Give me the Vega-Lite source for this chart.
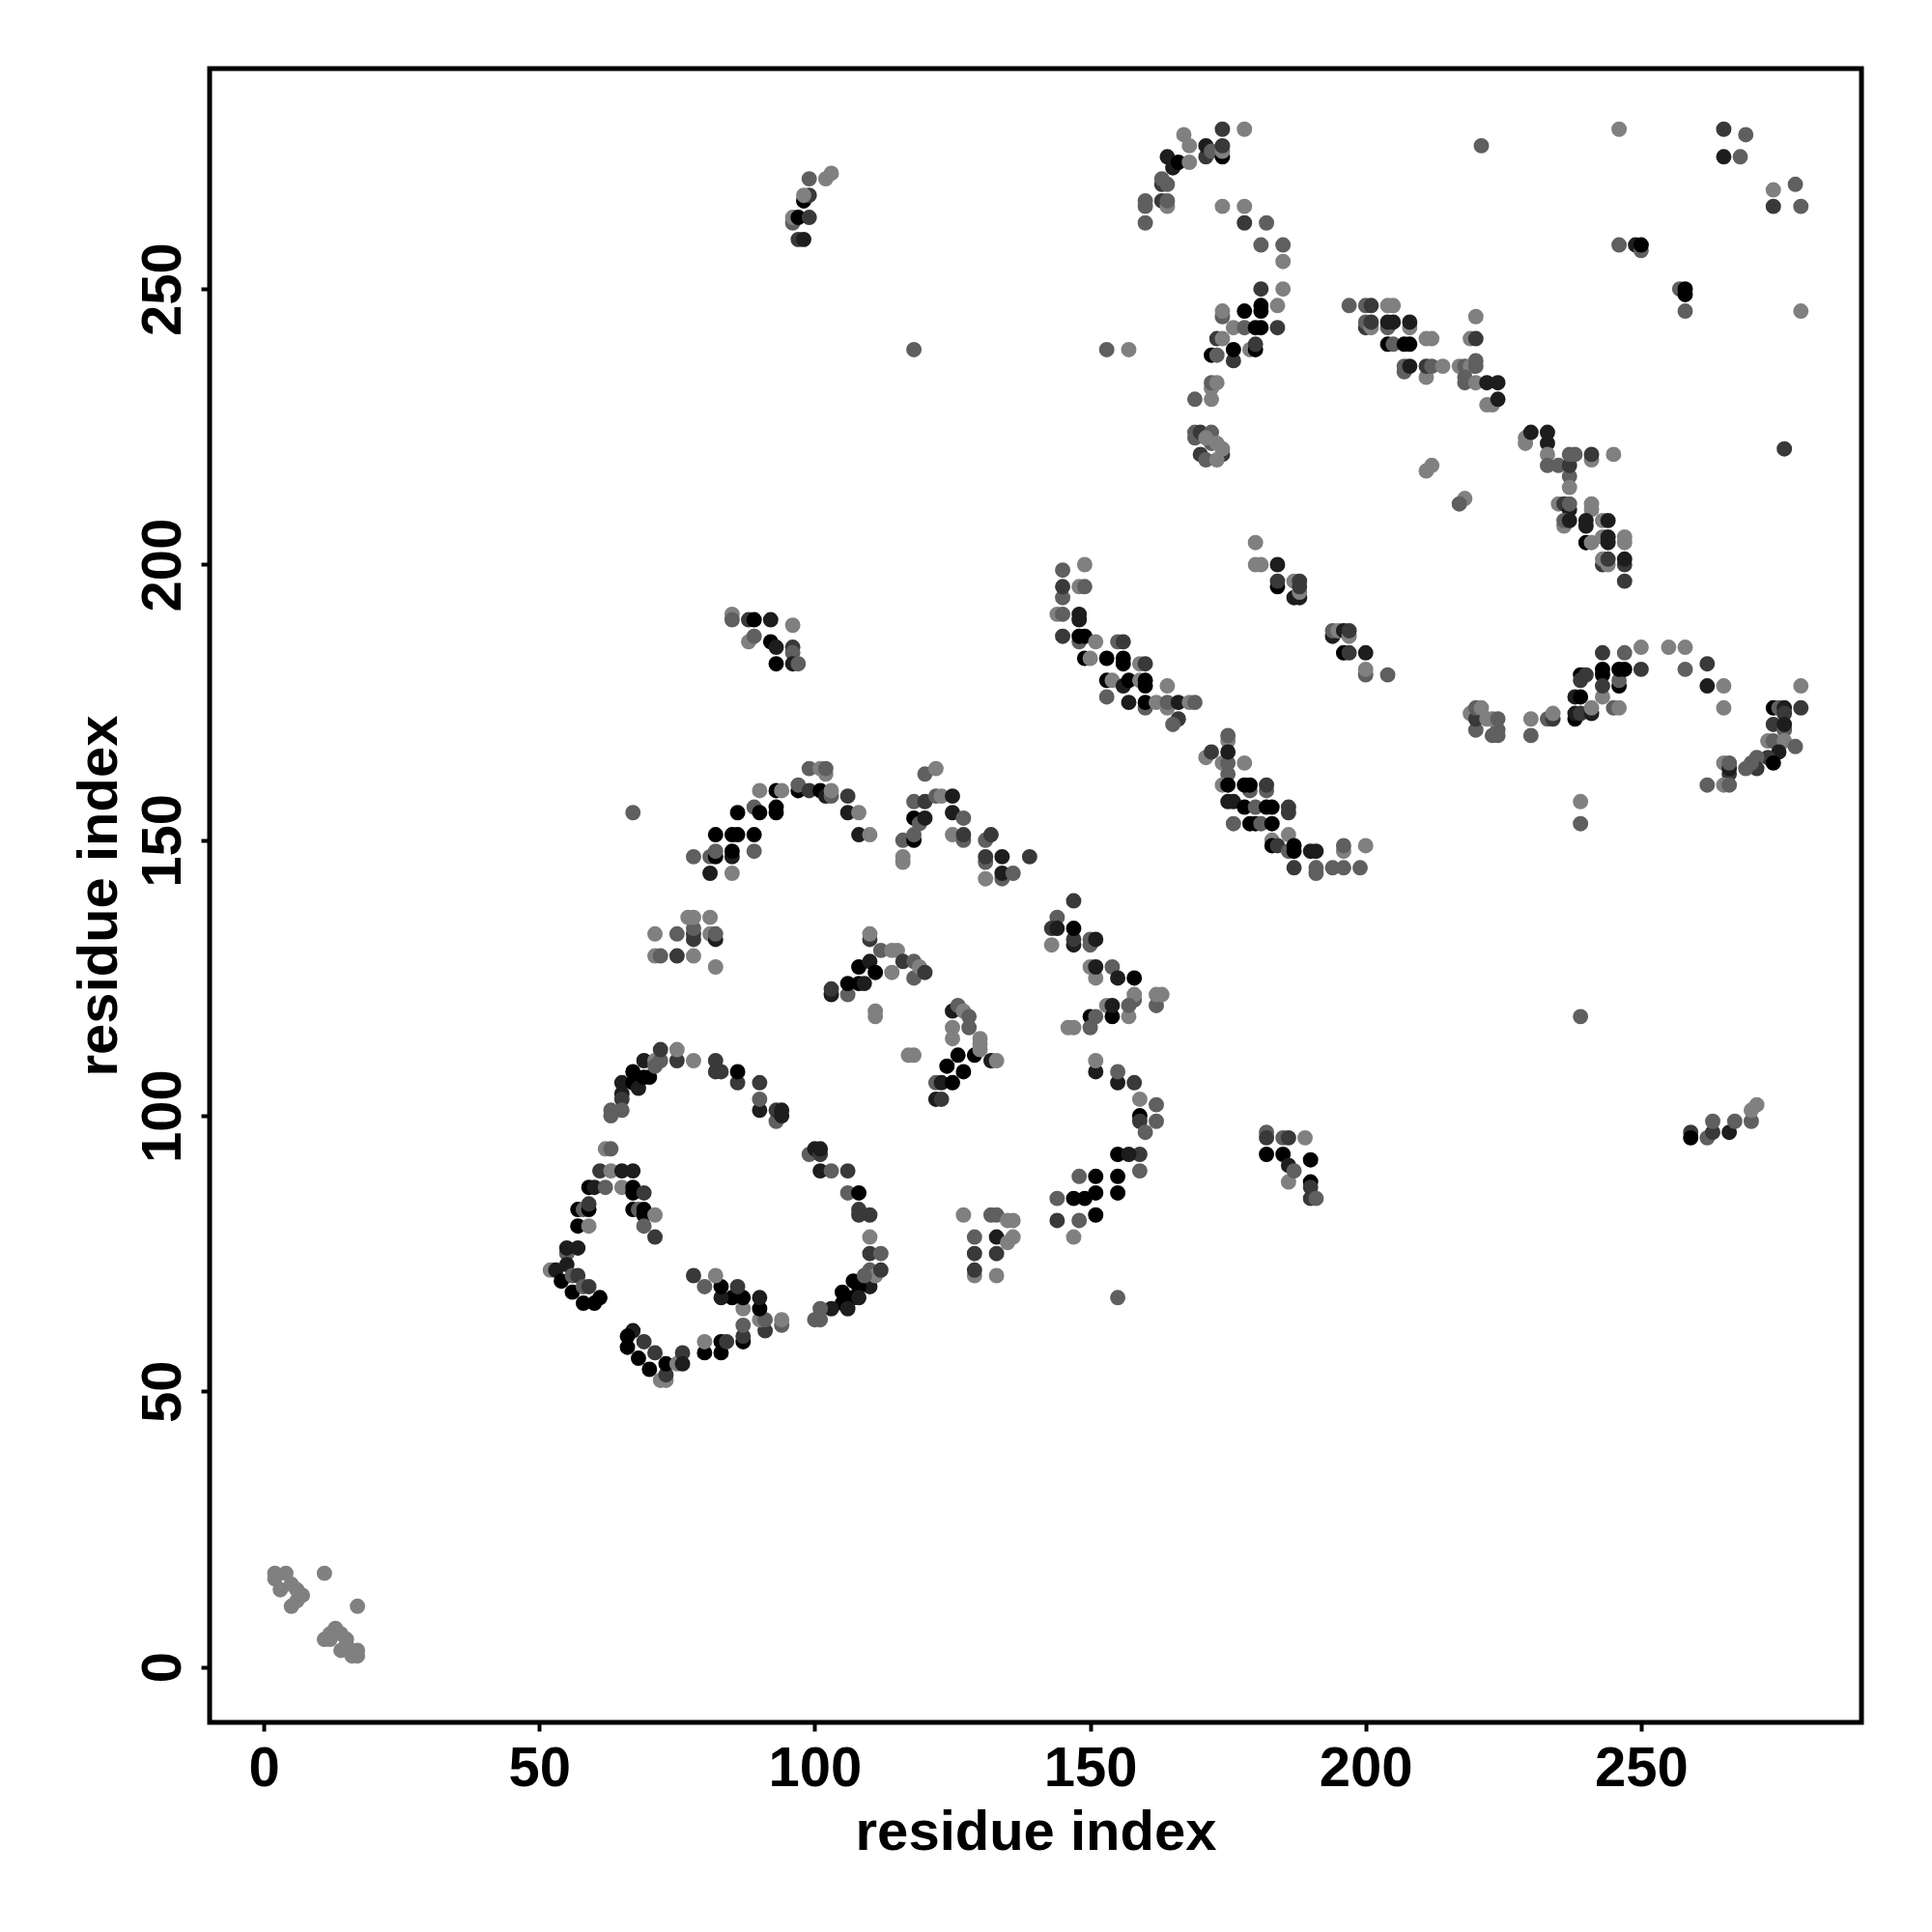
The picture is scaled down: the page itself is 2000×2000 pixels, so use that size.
{"$schema":"https://vega.github.io/schema/vega-lite/v6.json","width":1710,"height":1712,"autosize":{"type":"none"},"padding":{"left":217,"top":71,"right":73,"bottom":217},"background":"white","config":{"view":{"stroke":"black","strokeWidth":5,"fill":null},"font":"Liberation Sans"},"data":{"values":[
{"x":65,"y":106,"w":0.8},{"x":65,"y":104,"w":0.8},{"x":65,"y":103,"w":0.55},{"x":65,"y":101,"w":0.25},{"x":63,"y":101,"w":0.25},{"x":63,"y":100,"w":0.25},{"x":67,"y":108,"w":1},{"x":67,"y":106,"w":1},{"x":68,"y":105,"w":0.8},{"x":69,"y":110,"w":0.8},{"x":69,"y":107,"w":1},{"x":70,"y":107,"w":1},{"x":71,"y":110,"w":0},{"x":71,"y":109,"w":0.25},{"x":72,"y":110,"w":0.25},{"x":72,"y":112,"w":0.55},{"x":75,"y":110,"w":0.55},{"x":75,"y":112,"w":0},{"x":78,"y":110,"w":0},{"x":82,"y":110,"w":0.55},{"x":82,"y":108,"w":0.55},{"x":83,"y":108,"w":0.55},{"x":86,"y":106,"w":0.55},{"x":86,"y":108,"w":1},{"x":90,"y":106,"w":0.55},{"x":90,"y":101,"w":0.8},{"x":90,"y":103,"w":0.25},{"x":93,"y":99,"w":0.25},{"x":93,"y":101,"w":0.55},{"x":94,"y":100,"w":0.8},{"x":94,"y":101,"w":0.8},
{"x":99,"y":93,"w":0.25},{"x":100,"y":94,"w":0.8},{"x":101,"y":93,"w":0.55},{"x":101,"y":94,"w":0.8},{"x":101,"y":90,"w":0.8},{"x":103,"y":90,"w":0.25},{"x":106,"y":90,"w":0.55},{"x":106,"y":86,"w":0.25},{"x":108,"y":86,"w":1},{"x":108,"y":83,"w":0.55},{"x":108,"y":82,"w":0.55},{"x":110,"y":82,"w":0.55},{"x":110,"y":78,"w":0},{"x":110,"y":75,"w":0.55},{"x":112,"y":75,"w":0.25},{"x":110,"y":72,"w":0.25},{"x":110,"y":69,"w":0.8},{"x":111,"y":71,"w":0},{"x":112,"y":72,"w":0.55},{"x":105,"y":68,"w":1},{"x":105,"y":66,"w":1},{"x":107,"y":70,"w":1},{"x":108,"y":69,"w":1},{"x":109,"y":71,"w":0.25},{"x":107,"y":67,"w":1},{"x":108,"y":67,"w":0.8},{"x":106,"y":65,"w":0.8},{"x":103,"y":65,"w":0.8},{"x":101,"y":65,"w":0.25},{"x":100,"y":63,"w":0.25},{"x":101,"y":63,"w":0.25},
{"x":62,"y":94,"w":0},{"x":63,"y":94,"w":0.25},{"x":61,"y":90,"w":0.55},{"x":63,"y":90,"w":0},{"x":65,"y":90,"w":0.8},{"x":67,"y":90,"w":0.8},{"x":59,"y":87,"w":1},{"x":60,"y":87,"w":0.8},{"x":62,"y":87,"w":0.25},{"x":65,"y":87,"w":0},{"x":67,"y":87,"w":1},{"x":67,"y":86,"w":1},{"x":69,"y":86,"w":0.55},{"x":57,"y":83,"w":1},{"x":58,"y":83,"w":0.25},{"x":59,"y":83,"w":1},{"x":59,"y":84,"w":0.55},{"x":67,"y":83,"w":1},{"x":68,"y":83,"w":0.25},{"x":69,"y":83,"w":1},{"x":69,"y":82,"w":1},{"x":71,"y":82,"w":0},{"x":69,"y":80,"w":0.25},{"x":57,"y":80,"w":1},{"x":59,"y":80,"w":0},{"x":71,"y":78,"w":0.55},{"x":55,"y":75,"w":0.25},{"x":55,"y":76,"w":0.8},{"x":57,"y":76,"w":0.8},{"x":52,"y":72,"w":0},{"x":53,"y":72,"w":0.8},{"x":55,"y":73,"w":0.8},{"x":54,"y":70,"w":1},{"x":56,"y":71,"w":0.25},{"x":57,"y":71,"w":0.55},{"x":56,"y":68,"w":1},{"x":58,"y":69,"w":0.25},{"x":59,"y":69,"w":0.55},{"x":58,"y":66,"w":1},{"x":60,"y":66,"w":1},{"x":61,"y":67,"w":1},
{"x":67,"y":61,"w":0.8},{"x":66,"y":60,"w":1},{"x":66,"y":58,"w":1},{"x":69,"y":59,"w":0.55},{"x":68,"y":56,"w":1},{"x":71,"y":57,"w":0.55},{"x":70,"y":54,"w":1},{"x":72,"y":52,"w":0},{"x":73,"y":52,"w":0},{"x":73,"y":53,"w":0.55},{"x":73,"y":55,"w":1},{"x":75,"y":55,"w":0},{"x":76,"y":57,"w":0.55},{"x":76,"y":55,"w":0.8},{"x":80,"y":57,"w":1},{"x":80,"y":59,"w":0},{"x":83,"y":57,"w":1},{"x":83,"y":59,"w":1},{"x":84,"y":59,"w":0.55},{"x":87,"y":59,"w":1},{"x":87,"y":60,"w":0.55},{"x":87,"y":62,"w":0.25},{"x":91,"y":61,"w":0.55},{"x":90,"y":63,"w":0},{"x":91,"y":63,"w":0.25},{"x":94,"y":62,"w":0.25},{"x":94,"y":63,"w":0},{"x":87,"y":65,"w":0},{"x":90,"y":65,"w":1},{"x":90,"y":67,"w":0.8},{"x":87,"y":67,"w":1},{"x":85,"y":67,"w":1},{"x":86,"y":69,"w":0.55},{"x":83,"y":67,"w":0.8},{"x":83,"y":69,"w":1},{"x":80,"y":69,"w":0.25},{"x":82,"y":71,"w":0},{"x":78,"y":71,"w":0.55},
{"x":67,"y":155,"w":0.25},{"x":78,"y":147,"w":0.25},{"x":81,"y":144,"w":0.8},{"x":85,"y":144,"w":0},{"x":81,"y":147,"w":0.25},{"x":82,"y":147,"w":1},{"x":82,"y":148,"w":0.25},{"x":85,"y":147,"w":0.8},{"x":85,"y":148,"w":1},{"x":89,"y":148,"w":0.25},{"x":82,"y":151,"w":1},{"x":85,"y":151,"w":1},{"x":86,"y":151,"w":1},{"x":89,"y":151,"w":1},{"x":86,"y":155,"w":1},{"x":89,"y":156,"w":0.25},{"x":90,"y":155,"w":1},{"x":93,"y":155,"w":1},{"x":93,"y":156,"w":1},{"x":90,"y":159,"w":0},{"x":93,"y":159,"w":1},{"x":94,"y":159,"w":0},{"x":97,"y":159,"w":1},{"x":97,"y":160,"w":0.25},{"x":99,"y":159,"w":0.55},{"x":99,"y":163,"w":0.25},{"x":101,"y":163,"w":0},{"x":102,"y":162,"w":0},{"x":102,"y":163,"w":0.25},{"x":101,"y":159,"w":1},{"x":102,"y":158,"w":0.8},{"x":103,"y":158,"w":0.25},{"x":103,"y":159,"w":0},{"x":106,"y":158,"w":0.55},{"x":106,"y":155,"w":0.8},{"x":108,"y":155,"w":0},{"x":108,"y":151,"w":0.8},{"x":110,"y":151,"w":0},
{"x":116,"y":146,"w":0},{"x":116,"y":147,"w":0},{"x":116,"y":150,"w":0.25},{"x":118,"y":150,"w":1},{"x":118,"y":151,"w":0.25},{"x":118,"y":154,"w":1},{"x":119,"y":153,"w":0.25},{"x":120,"y":154,"w":0.8},{"x":118,"y":157,"w":0.25},{"x":120,"y":157,"w":0.55},{"x":122,"y":158,"w":0.25},{"x":123,"y":158,"w":0},{"x":120,"y":162,"w":0.25},{"x":122,"y":163,"w":0},{"x":125,"y":158,"w":0.8},{"x":125,"y":155,"w":0.8},{"x":127,"y":154,"w":0.25},{"x":125,"y":151,"w":0},{"x":127,"y":150,"w":0.25},{"x":127,"y":151,"w":0.55},{"x":131,"y":150,"w":0.25},{"x":132,"y":151,"w":0.55},{"x":131,"y":146,"w":0.25},{"x":131,"y":147,"w":0.55},{"x":134,"y":147,"w":0.8},{"x":139,"y":147,"w":0.55},{"x":131,"y":143,"w":0},{"x":134,"y":143,"w":0.25},{"x":134,"y":144,"w":0.8},{"x":136,"y":144,"w":0.25},
{"x":71,"y":133,"w":0},{"x":71,"y":129,"w":0},{"x":72,"y":129,"w":0.25},{"x":75,"y":129,"w":0.55},{"x":75,"y":133,"w":0.25},{"x":78,"y":129,"w":0},{"x":78,"y":132,"w":0.55},{"x":78,"y":133,"w":0.55},{"x":78,"y":134,"w":0.25},{"x":77,"y":136,"w":0},{"x":78,"y":136,"w":0},{"x":81,"y":133,"w":0},{"x":81,"y":136,"w":0},{"x":82,"y":132,"w":0.8},{"x":82,"y":133,"w":0.25},{"x":82,"y":127,"w":0},
{"x":110,"y":132,"w":0.55},{"x":110,"y":133,"w":0},{"x":103,"y":122,"w":0.8},{"x":103,"y":123,"w":0.55},{"x":106,"y":122,"w":0.25},{"x":106,"y":124,"w":1},{"x":108,"y":127,"w":1},{"x":108,"y":124,"w":1},{"x":109,"y":124,"w":0.8},{"x":110,"y":128,"w":0.8},{"x":111,"y":126,"w":1},{"x":114,"y":126,"w":0},{"x":112,"y":130,"w":0.25},{"x":114,"y":130,"w":0},{"x":115,"y":130,"w":0},{"x":116,"y":128,"w":0.55},{"x":118,"y":125,"w":0.25},{"x":118,"y":128,"w":0.25},{"x":119,"y":127,"w":0},{"x":120,"y":126,"w":0.55},{"x":111,"y":118,"w":0},{"x":111,"y":119,"w":0},
{"x":147,"y":139,"w":0.55},{"x":144,"y":136,"w":0.25},{"x":143,"y":134,"w":0.55},{"x":144,"y":134,"w":0.8},{"x":143,"y":131,"w":0},{"x":147,"y":131,"w":0.8},{"x":147,"y":132,"w":0.55},{"x":147,"y":134,"w":1},{"x":150,"y":131,"w":0.25},{"x":150,"y":132,"w":0.25},{"x":151,"y":132,"w":0.8},{"x":150,"y":127,"w":0},{"x":151,"y":125,"w":0},{"x":151,"y":127,"w":0.8},{"x":154,"y":127,"w":0.25},{"x":155,"y":125,"w":0.8},{"x":158,"y":125,"w":1},{"x":158,"y":121,"w":0.25},{"x":158,"y":122,"w":0},{"x":157,"y":118,"w":0},{"x":157,"y":120,"w":0.25},{"x":153,"y":120,"w":0},{"x":154,"y":118,"w":1},{"x":154,"y":120,"w":0.8},{"x":150,"y":118,"w":1},{"x":151,"y":118,"w":0.25},{"x":146,"y":116,"w":0},{"x":147,"y":116,"w":0},{"x":150,"y":116,"w":0.25},{"x":162,"y":120,"w":0.25},{"x":162,"y":122,"w":0},{"x":163,"y":122,"w":0},
{"x":125,"y":119,"w":0.8},{"x":126,"y":120,"w":0.25},{"x":127,"y":119,"w":0},{"x":128,"y":118,"w":0.25},{"x":125,"y":116,"w":0},{"x":125,"y":114,"w":0},{"x":128,"y":116,"w":0.25},{"x":129,"y":111,"w":1},{"x":126,"y":111,"w":1},{"x":124,"y":109,"w":1},{"x":127,"y":108,"w":1},{"x":130,"y":114,"w":0},{"x":130,"y":113,"w":0},{"x":130,"y":112,"w":0},{"x":132,"y":110,"w":0.8},{"x":133,"y":110,"w":0},{"x":122,"y":106,"w":0.25},{"x":123,"y":106,"w":0.8},{"x":125,"y":106,"w":1},{"x":122,"y":103,"w":0.8},{"x":123,"y":103,"w":0.55},{"x":117,"y":111,"w":0},{"x":118,"y":111,"w":0},
{"x":151,"y":108,"w":0.8},{"x":151,"y":110,"w":0},{"x":155,"y":106,"w":0.8},{"x":155,"y":108,"w":0.25},{"x":158,"y":106,"w":0.55},{"x":159,"y":100,"w":1},{"x":159,"y":103,"w":0},{"x":162,"y":102,"w":0.25},{"x":159,"y":99,"w":0.55},{"x":162,"y":99,"w":0.25},{"x":160,"y":97,"w":0.25},{"x":159,"y":93,"w":0.55},{"x":155,"y":93,"w":1},{"x":157,"y":93,"w":0.8},{"x":159,"y":90,"w":0.25},{"x":155,"y":89,"w":1},{"x":151,"y":89,"w":1},{"x":148,"y":89,"w":0.25},{"x":155,"y":86,"w":1},{"x":151,"y":86,"w":1},{"x":149,"y":85,"w":1},{"x":147,"y":85,"w":1},{"x":144,"y":85,"w":0.25},{"x":151,"y":82,"w":1},{"x":144,"y":81,"w":0.55},{"x":148,"y":81,"w":0.25},{"x":147,"y":78,"w":0},{"x":155,"y":67,"w":0.25},
{"x":127,"y":82,"w":0},{"x":129,"y":78,"w":0.25},{"x":129,"y":75,"w":0.55},{"x":129,"y":71,"w":0},{"x":129,"y":72,"w":0.55},{"x":132,"y":82,"w":0.25},{"x":133,"y":78,"w":0.8},{"x":133,"y":75,"w":0.55},{"x":133,"y":71,"w":0},{"x":133,"y":82,"w":0.25},{"x":135,"y":81,"w":0},{"x":136,"y":81,"w":0},{"x":135,"y":77,"w":0},{"x":136,"y":78,"w":0},
{"x":182,"y":97,"w":0.25},{"x":182,"y":96,"w":0.55},{"x":182,"y":93,"w":1},{"x":185,"y":96,"w":0.25},{"x":186,"y":96,"w":0.55},{"x":189,"y":96,"w":0},{"x":185,"y":93,"w":1},{"x":186,"y":91,"w":0.8},{"x":190,"y":92,"w":1},{"x":186,"y":88,"w":0},{"x":187,"y":90,"w":0.25},{"x":190,"y":88,"w":1},{"x":190,"y":87,"w":0.55},{"x":190,"y":85,"w":0.55},{"x":191,"y":85,"w":0.25},
{"x":259,"y":97,"w":0.55},{"x":259,"y":96,"w":1},{"x":262,"y":96,"w":0.25},{"x":263,"y":97,"w":0.55},{"x":263,"y":99,"w":0.25},{"x":266,"y":97,"w":0.8},{"x":267,"y":99,"w":0.25},{"x":270,"y":99,"w":0.25},{"x":270,"y":101,"w":0},{"x":271,"y":102,"w":0},
{"x":239,"y":118,"w":0.25},{"x":239,"y":153,"w":0.25},{"x":239,"y":157,"w":0},{"x":276,"y":221,"w":0.55},
{"x":97,"y":259,"w":0.55},{"x":98,"y":259,"w":0.8},{"x":96,"y":262,"w":0.25},{"x":96,"y":263,"w":0},{"x":97,"y":263,"w":1},{"x":99,"y":263,"w":0.55},{"x":98,"y":266,"w":1},{"x":99,"y":267,"w":0.55},{"x":98,"y":267,"w":0},{"x":99,"y":270,"w":0.25},{"x":102,"y":270,"w":0},{"x":103,"y":271,"w":0},
{"x":118,"y":239,"w":0.25},{"x":153,"y":239,"w":0.25},{"x":157,"y":239,"w":0},
{"x":85,"y":191,"w":0},{"x":85,"y":190,"w":0.25},{"x":88,"y":190,"w":0.55},{"x":89,"y":190,"w":1},{"x":92,"y":190,"w":0.8},{"x":88,"y":186,"w":0},{"x":89,"y":187,"w":0.25},{"x":92,"y":186,"w":1},{"x":93,"y":185,"w":0.8},{"x":93,"y":182,"w":1},{"x":96,"y":189,"w":0},{"x":96,"y":185,"w":0.55},{"x":96,"y":184,"w":0.25},{"x":96,"y":182,"w":0.8},{"x":97,"y":182,"w":0.25},
{"x":145,"y":199,"w":0.25},{"x":149,"y":200,"w":0},{"x":145,"y":194,"w":0.25},{"x":145,"y":196,"w":0.55},{"x":148,"y":196,"w":0},{"x":149,"y":196,"w":0.25},{"x":144,"y":191,"w":0},{"x":145,"y":191,"w":0.25},{"x":148,"y":190,"w":0.8},{"x":148,"y":191,"w":0.8},{"x":145,"y":187,"w":0.55},{"x":148,"y":186,"w":0.25},{"x":148,"y":187,"w":1},{"x":149,"y":187,"w":1},{"x":151,"y":186,"w":0},{"x":149,"y":183,"w":1},{"x":150,"y":183,"w":0},{"x":153,"y":183,"w":1},{"x":153,"y":179,"w":1},{"x":154,"y":179,"w":0},{"x":153,"y":176,"w":0.25},{"x":155,"y":186,"w":0.25},{"x":156,"y":186,"w":0.55},{"x":156,"y":183,"w":1},{"x":156,"y":182,"w":1},{"x":156,"y":178,"w":0.8},{"x":157,"y":179,"w":1},{"x":159,"y":182,"w":0},{"x":160,"y":182,"w":0.55},{"x":159,"y":179,"w":0},{"x":160,"y":179,"w":1},{"x":160,"y":178,"w":1},{"x":157,"y":175,"w":0.8},{"x":160,"y":174,"w":0.25},{"x":160,"y":175,"w":1},{"x":164,"y":178,"w":0},{"x":162,"y":175,"w":0},{"x":164,"y":174,"w":0},{"x":164,"y":175,"w":0.25},{"x":166,"y":172,"w":0.55},{"x":165,"y":171,"w":0.25},{"x":166,"y":175,"w":0.8},{"x":168,"y":175,"w":0},{"x":169,"y":175,"w":0.25},
{"x":175,"y":168,"w":0},{"x":175,"y":169,"w":0.25},{"x":171,"y":165,"w":0},{"x":172,"y":166,"w":0.55},{"x":174,"y":164,"w":0},{"x":175,"y":164,"w":0.25},{"x":175,"y":166,"w":0.8},{"x":178,"y":164,"w":0},{"x":175,"y":162,"w":0.25},{"x":174,"y":160,"w":0},{"x":175,"y":160,"w":1},{"x":179,"y":159,"w":0.25},{"x":178,"y":160,"w":1},{"x":179,"y":160,"w":1},{"x":182,"y":159,"w":0.25},{"x":182,"y":160,"w":0.55},{"x":175,"y":157,"w":0.8},{"x":176,"y":157,"w":0.8},{"x":178,"y":156,"w":1},{"x":180,"y":156,"w":0.25},{"x":182,"y":156,"w":1},{"x":183,"y":156,"w":1},{"x":186,"y":155,"w":0.55},{"x":186,"y":156,"w":0.55},{"x":176,"y":153,"w":0.25},{"x":179,"y":153,"w":1},{"x":180,"y":153,"w":1},{"x":181,"y":153,"w":0.25},{"x":183,"y":153,"w":1},{"x":186,"y":151,"w":0},{"x":183,"y":150,"w":0},{"x":183,"y":149,"w":1},{"x":184,"y":149,"w":0.55},{"x":186,"y":148,"w":0.25},{"x":187,"y":149,"w":1},{"x":187,"y":148,"w":1},{"x":190,"y":148,"w":0.8},{"x":191,"y":148,"w":0.8},{"x":187,"y":145,"w":0.55},{"x":191,"y":144,"w":0.25},{"x":191,"y":145,"w":0.25},{"x":194,"y":145,"w":0.25},{"x":196,"y":145,"w":0.25},{"x":199,"y":145,"w":0.25},{"x":196,"y":148,"w":0},{"x":196,"y":149,"w":0.25},{"x":200,"y":149,"w":0},
{"x":180,"y":204,"w":0},{"x":180,"y":200,"w":0},{"x":181,"y":200,"w":0},{"x":184,"y":200,"w":0.8},{"x":184,"y":196,"w":1},{"x":184,"y":197,"w":0.55},{"x":187,"y":197,"w":0},{"x":187,"y":194,"w":0.8},{"x":188,"y":194,"w":0.8},{"x":188,"y":195,"w":0},{"x":188,"y":196,"w":0.55},{"x":188,"y":197,"w":0.55},
{"x":194,"y":187,"w":0.8},{"x":194,"y":188,"w":0.25},{"x":195,"y":188,"w":0},{"x":196,"y":188,"w":0.8},{"x":197,"y":187,"w":0},{"x":197,"y":188,"w":0.55},{"x":196,"y":184,"w":1},{"x":197,"y":184,"w":0.55},{"x":200,"y":184,"w":0.8},{"x":200,"y":180,"w":0.25},{"x":200,"y":181,"w":0},{"x":204,"y":180,"w":0.25},
{"x":167,"y":278,"w":0},{"x":174,"y":279,"w":0.55},{"x":178,"y":279,"w":0},{"x":221,"y":276,"w":0.25},{"x":246,"y":279,"w":0},
{"x":163,"y":269,"w":0.55},{"x":164,"y":269,"w":0.25},{"x":163,"y":270,"w":0.25},{"x":164,"y":274,"w":0.8},{"x":165,"y":272,"w":0.8},{"x":166,"y":273,"w":1},{"x":168,"y":273,"w":0},{"x":168,"y":276,"w":0},{"x":171,"y":274,"w":0.55},{"x":171,"y":276,"w":0.8},{"x":172,"y":275,"w":0.25},{"x":174,"y":274,"w":1},{"x":174,"y":275,"w":0},{"x":174,"y":276,"w":0.55},
{"x":160,"y":265,"w":0.25},{"x":160,"y":266,"w":0.25},{"x":160,"y":262,"w":0.25},{"x":163,"y":266,"w":0.55},{"x":164,"y":265,"w":0},{"x":164,"y":266,"w":0.25},
{"x":174,"y":265,"w":0},{"x":178,"y":265,"w":0},{"x":178,"y":262,"w":0.55},{"x":182,"y":262,"w":0.25},{"x":181,"y":258,"w":0.25},{"x":185,"y":258,"w":0.25},{"x":185,"y":255,"w":0},{"x":181,"y":250,"w":0.55},{"x":185,"y":250,"w":0},{"x":184,"y":247,"w":0},{"x":178,"y":246,"w":1},{"x":181,"y":247,"w":1},{"x":181,"y":246,"w":1},{"x":174,"y":245,"w":0.25},{"x":174,"y":246,"w":0},{"x":176,"y":243,"w":0},{"x":178,"y":243,"w":0.25},{"x":180,"y":243,"w":1},{"x":181,"y":243,"w":1},{"x":184,"y":243,"w":0.55},{"x":173,"y":241,"w":0.55},{"x":174,"y":241,"w":0},{"x":176,"y":237,"w":0.55},{"x":172,"y":238,"w":1},{"x":173,"y":238,"w":0.25},{"x":176,"y":239,"w":1},{"x":179,"y":239,"w":0},{"x":180,"y":239,"w":1},{"x":180,"y":240,"w":0.55},{"x":172,"y":232,"w":0},{"x":172,"y":233,"w":0.25},{"x":173,"y":233,"w":0},{"x":169,"y":230,"w":0.25},{"x":172,"y":230,"w":0},
{"x":169,"y":223,"w":0.25},{"x":169,"y":224,"w":0.25},{"x":170,"y":224,"w":0.55},{"x":172,"y":224,"w":0.25},{"x":170,"y":220,"w":0.55},{"x":171,"y":219,"w":0.25},{"x":174,"y":220,"w":0.55},{"x":172,"y":222,"w":0.25},{"x":171,"y":223,"w":0},{"x":173,"y":219,"w":0},{"x":173,"y":222,"w":0},{"x":174,"y":221,"w":0},
{"x":197,"y":247,"w":0.25},{"x":200,"y":247,"w":0.25},{"x":201,"y":247,"w":0.55},{"x":204,"y":247,"w":0},{"x":205,"y":247,"w":0},{"x":200,"y":243,"w":0.55},{"x":200,"y":244,"w":0.25},{"x":201,"y":243,"w":0},{"x":201,"y":244,"w":0.55},{"x":204,"y":243,"w":0.25},{"x":204,"y":244,"w":0.8},{"x":205,"y":244,"w":0.8},{"x":208,"y":243,"w":0},{"x":208,"y":244,"w":0.8},{"x":204,"y":240,"w":1},{"x":205,"y":240,"w":0.25},{"x":207,"y":240,"w":1},{"x":208,"y":240,"w":1},{"x":211,"y":241,"w":0},{"x":212,"y":241,"w":0},{"x":207,"y":235,"w":0.25},{"x":207,"y":236,"w":0.25},{"x":208,"y":236,"w":0.8},{"x":211,"y":234,"w":0},{"x":211,"y":236,"w":0.55},{"x":212,"y":236,"w":0.25},{"x":214,"y":236,"w":0},{"x":217,"y":236,"w":0},{"x":218,"y":236,"w":0.25},{"x":220,"y":245,"w":0},{"x":219,"y":241,"w":0},{"x":220,"y":241,"w":0.55},{"x":219,"y":236,"w":0},{"x":220,"y":236,"w":0.25},{"x":220,"y":237,"w":0.25},{"x":218,"y":234,"w":0.25},{"x":218,"y":233,"w":0.25},{"x":220,"y":233,"w":0},{"x":222,"y":233,"w":0.8},{"x":224,"y":233,"w":0.8},{"x":222,"y":229,"w":0},{"x":223,"y":229,"w":0},{"x":224,"y":230,"w":0.8},
{"x":229,"y":222,"w":0},{"x":229,"y":223,"w":0},{"x":230,"y":224,"w":0.8},{"x":233,"y":224,"w":0.8},{"x":233,"y":222,"w":0.8},{"x":233,"y":220,"w":0},{"x":233,"y":218,"w":0.25},{"x":235,"y":218,"w":0.25},{"x":237,"y":216,"w":0.25},{"x":237,"y":218,"w":0.55},{"x":237,"y":220,"w":0.25},{"x":238,"y":220,"w":0.25},{"x":241,"y":219,"w":0},{"x":241,"y":220,"w":0.55},{"x":245,"y":220,"w":0},{"x":212,"y":218,"w":0},{"x":211,"y":217,"w":0},{"x":218,"y":212,"w":0},{"x":217,"y":211,"w":0.25},
{"x":237,"y":214,"w":0},{"x":235,"y":211,"w":0},{"x":236,"y":211,"w":0.55},{"x":237,"y":210,"w":0.8},{"x":237,"y":211,"w":0.25},{"x":241,"y":210,"w":0},{"x":241,"y":211,"w":0},{"x":236,"y":207,"w":0},{"x":236,"y":208,"w":0.25},{"x":237,"y":208,"w":0.8},{"x":240,"y":207,"w":0.8},{"x":240,"y":208,"w":0.8},{"x":243,"y":208,"w":0},{"x":244,"y":208,"w":0.8},{"x":240,"y":204,"w":1},{"x":241,"y":204,"w":0},{"x":243,"y":205,"w":0},{"x":244,"y":205,"w":0.8},{"x":244,"y":204,"w":0.8},{"x":247,"y":204,"w":0},{"x":247,"y":205,"w":0},{"x":243,"y":200,"w":0.55},{"x":243,"y":201,"w":0},{"x":244,"y":200,"w":0},{"x":244,"y":201,"w":0.55},{"x":247,"y":200,"w":0.55},{"x":247,"y":201,"w":0.8},{"x":247,"y":197,"w":0.55},
{"x":243,"y":184,"w":0.55},{"x":247,"y":184,"w":0.25},{"x":250,"y":185,"w":0},{"x":255,"y":185,"w":0},{"x":258,"y":185,"w":0},{"x":262,"y":182,"w":0.55},{"x":258,"y":181,"w":0.25},{"x":250,"y":181,"w":0.55},{"x":243,"y":180,"w":1},{"x":243,"y":181,"w":1},{"x":246,"y":178,"w":1},{"x":246,"y":179,"w":0.25},{"x":246,"y":181,"w":1},{"x":247,"y":181,"w":1},{"x":243,"y":176,"w":0},{"x":243,"y":178,"w":0.55},{"x":239,"y":180,"w":1},{"x":239,"y":179,"w":0.55},{"x":240,"y":180,"w":0.55},{"x":238,"y":176,"w":0.8},{"x":239,"y":176,"w":1},{"x":238,"y":172,"w":1},{"x":238,"y":173,"w":0.8},{"x":239,"y":173,"w":0.55},{"x":241,"y":173,"w":0.8},{"x":241,"y":174,"w":0},{"x":245,"y":174,"w":0.25},{"x":246,"y":174,"w":0},{"x":262,"y":178,"w":0.8},{"x":265,"y":178,"w":0},{"x":265,"y":174,"w":0},{"x":279,"y":178,"w":0},{"x":279,"y":174,"w":0.55},
{"x":219,"y":173,"w":0},{"x":220,"y":170,"w":0.25},{"x":220,"y":172,"w":0.55},{"x":220,"y":174,"w":0.25},{"x":221,"y":174,"w":0},{"x":222,"y":172,"w":0},{"x":223,"y":169,"w":0.25},{"x":224,"y":169,"w":0.25},{"x":224,"y":170,"w":0.25},{"x":223,"y":172,"w":0},{"x":224,"y":172,"w":0.25},{"x":230,"y":172,"w":0},{"x":230,"y":169,"w":0.25},{"x":233,"y":172,"w":0.25},{"x":234,"y":172,"w":0.55},{"x":234,"y":173,"w":0},
{"x":274,"y":174,"w":1},{"x":275,"y":174,"w":0.25},{"x":276,"y":174,"w":0.8},{"x":276,"y":173,"w":0.55},{"x":274,"y":171,"w":0.55},{"x":276,"y":170,"w":0.25},{"x":276,"y":171,"w":0.8},{"x":273,"y":168,"w":0},{"x":274,"y":168,"w":0.25},{"x":276,"y":168,"w":0},{"x":278,"y":167,"w":0.25},{"x":275,"y":166,"w":0.8},{"x":273,"y":165,"w":0.55},{"x":274,"y":164,"w":1},{"x":271,"y":165,"w":0.25},{"x":271,"y":163,"w":0.55},{"x":269,"y":163,"w":0.25},{"x":270,"y":164,"w":0.25},{"x":265,"y":164,"w":0},{"x":266,"y":162,"w":0.55},{"x":266,"y":163,"w":0.8},{"x":266,"y":164,"w":0.25},{"x":262,"y":160,"w":0.25},{"x":265,"y":160,"w":0},{"x":266,"y":160,"w":0.25},
{"x":265,"y":279,"w":0.55},{"x":269,"y":278,"w":0.25},{"x":265,"y":274,"w":0.8},{"x":268,"y":274,"w":0.25},{"x":274,"y":268,"w":0},{"x":278,"y":269,"w":0.25},{"x":274,"y":265,"w":0.55},{"x":279,"y":265,"w":0.25},{"x":279,"y":246,"w":0},{"x":246,"y":258,"w":0.25},{"x":249,"y":258,"w":0.8},{"x":250,"y":257,"w":0.25},{"x":250,"y":258,"w":1},{"x":257,"y":250,"w":0.25},{"x":258,"y":249,"w":1},{"x":258,"y":250,"w":1},{"x":258,"y":246,"w":0.25},
{"x":2,"y":16,"w":0},{"x":2,"y":17,"w":0},{"x":4,"y":17,"w":0},{"x":3,"y":14,"w":0},{"x":5,"y":15,"w":0},{"x":5,"y":11,"w":0},{"x":6,"y":14,"w":0},{"x":7,"y":13,"w":0},{"x":6,"y":12,"w":0},{"x":11,"y":17,"w":0},{"x":17,"y":11,"w":0},{"x":11,"y":5,"w":0},{"x":12,"y":6,"w":0},{"x":13,"y":7,"w":0},{"x":14,"y":6,"w":0},{"x":15,"y":5,"w":0},{"x":14,"y":3,"w":0},{"x":16,"y":2,"w":0},{"x":17,"y":2,"w":0},{"x":17,"y":3,"w":0},{"x":12,"y":5,"w":0},{"x":15,"y":4,"w":0}
]},"mark":{"type":"point","filled":true,"shape":"circle","opacity":1,"size":254,"strokeWidth":0},"encoding":{"x":{"field":"x","type":"quantitative","title":"residue index","scale":{"domain":[-9.84,290],"nice":false,"zero":false},"axis":{"values":[0,50,100,150,200,250],"grid":false,"domain":false,"tickSize":9,"tickWidth":4,"tickColor":"black","labelFont":"Liberation Sans","labelFontWeight":"bold","labelFontSize":58,"labelColor":"black","labelPadding":10,"titleFont":"Liberation Sans","titleFontWeight":"bold","titleFontSize":58,"titleColor":"black","titlePadding":8}},"y":{"field":"y","type":"quantitative","title":"residue index","scale":{"domain":[-10.06,290],"nice":false,"zero":false},"axis":{"values":[0,50,100,150,200,250],"grid":false,"domain":false,"tickSize":9,"tickWidth":4,"tickColor":"black","labelFont":"Liberation Sans","labelFontWeight":"bold","labelFontSize":58,"labelColor":"black","labelAngle":-90,"labelAlign":"center","labelBaseline":"bottom","labelPadding":10,"titleFont":"Liberation Sans","titleFontWeight":"bold","titleFontSize":58,"titleColor":"black","titlePadding":8}},"color":{"field":"w","type":"quantitative","legend":null,"scale":{"domain":[0,1],"range":["#808080","#000000"]}}}}
